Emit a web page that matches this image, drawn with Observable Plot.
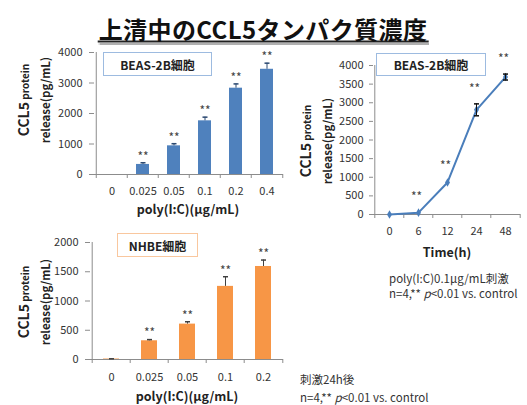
<!DOCTYPE html>
<html>
<head>
<meta charset="utf-8">
<script src="https://cdn.jsdelivr.net/npm/d3@7"></script>
<script src="https://cdn.jsdelivr.net/npm/@observablehq/plot@0.6"></script>
<style>
  body { margin: 0; background: #fff; }
  #page { position: relative; width: 527px; height: 405px; overflow: hidden;
          font-family: "Noto Sans CJK JP", "Noto Sans", sans-serif; color: #222; }
  .abs { position: absolute; white-space: nowrap; }
  .ctr { transform: translate(-50%, -50%); }
  .title { left: 263px; top: 28px; font-size: 24px; letter-spacing: 0.4px; font-weight: bold; color: #111; }
  .title span { border-bottom: 2px solid #222; box-shadow: 0 2px 1px #b0b0b0; padding: 0 1px; line-height: 25px; display: inline-block; }
  .ytitle { transform: translate(-50%, -50%) rotate(-90deg); text-align: center; font-weight: bold; line-height: 19px; color: #222; }
  .ytitle .big { font-size: 14px; }
  .ytitle .small { font-size: 10px; }
  .ytitle .mid { font-size: 11.5px; }
  .xtitle { font-size: 12.5px; font-weight: bold; color: #222; line-height: 14px; }
  .cell { border: 1px solid #9dbbe0; font-size: 12px; font-weight: bold; display: flex; align-items: center; justify-content: center; box-sizing: border-box; background: #fff; }
  .cell.orange { border-color: #f9c79e; }
  .note { font-size: 11.5px; color: #333; line-height: 15px; }
  .note.wide { line-height: 18px; }
  svg { position: absolute; overflow: visible; }
</style>
</head>
<body>
<div id="page">
  <div class="abs ctr title"><span>上清中のCCL5タンパク質濃度</span></div>
</div>
<script>
// BEAS-2B cells: CCL5 release by poly(I:C) dose (24 h)
const doseBeas = ["0", "0.025", "0.05", "0.1", "0.2", "0.4"];
const ccl5Beas = [0, 330, 940, 1760, 2830, 3450];
const errBeas  = [0, 55, 70, 120, 140, 200];

// BEAS-2B cells: CCL5 release over time at 0.1 μg/mL poly(I:C)
const timeHours = ["0", "6", "12", "24", "48"];
const ccl5Time  = [0, 50, 860, 2810, 3690];
const errTime   = [10, 15, 30, 160, 80];

// NHBE cells: CCL5 release by poly(I:C) dose (24 h)
const doseNhbe = ["0", "0.025", "0.05", "0.1", "0.2"];
const ccl5Nhbe = [8, 320, 605, 1250, 1590];
const errNhbe  = [4, 20, 40, 165, 110];

const yTicksBeas = [0, 1000, 2000, 3000, 4000];
const yTicksTime = [0, 500, 1000, 1500, 2000, 2500, 3000, 3500, 4000];
const yTicksNhbe = [0, 500, 1000, 1500, 2000];

const page = document.getElementById("page");
const axisGray = "#8c8c8c";
const font = '"Noto Sans CJK JP", "Noto Sans", sans-serif';
const plain = d3.format("d");

// short horizontal cap for error bars
const cap = { draw(ctx) { ctx.moveTo(-2.5, 0); ctx.lineTo(2.5, 0); } };

function html(cls, content, left, top, extra = {}) {
  const d = document.createElement("div");
  d.className = "abs " + cls;
  d.innerHTML = content;
  Object.assign(d.style, extra);
  d.style.left = left + "px";
  d.style.top = top + "px";
  page.appendChild(d);
  return d;
}

function barPanel(o) {
  const rows = o.cats.map((c, i) => ({
    dose: c, v: o.vals[i], e: o.errs[i], top: o.vals[i] + o.errs[i], star: i > 0 ? "**" : ""
  }));
  const n = o.cats.length;
  const step = (o.width - o.ml - o.mr) / n;
  const yMax = o.ticks[o.ticks.length - 1];
  const chart = Plot.plot({
    width: o.width, height: o.height,
    marginLeft: o.ml, marginRight: o.mr, marginTop: o.mt, marginBottom: o.mb,
    style: { fontFamily: font, fontSize: "11px", color: "#333", background: "transparent" },
    x: { type: "band", domain: o.cats, paddingInner: 0.59, paddingOuter: 0.295 },
    y: { domain: [0, yMax] },
    marks: [
      Plot.ruleY([0], { stroke: axisGray }),
      Plot.ruleX([o.cats[0]], { y1: 0, y2: yMax, dx: -step / 2, stroke: axisGray }),
      Plot.axisY({ ticks: o.ticks, tickFormat: plain, tickSize: 5, tickPadding: o.tp, label: null, stroke: axisGray, fontSize: 11 }),
      Plot.axisX({ tickSize: 0, tickPadding: o.xp, label: null, fontSize: 11 }),
      Plot.axisX({ tickSize: 4, tickFormat: () => "", dx: -step / 2, label: null, stroke: axisGray }),
      Plot.axisX({ ticks: [o.cats[n - 1]], tickSize: 4, tickFormat: () => "", dx: step / 2, label: null, stroke: axisGray }),
      Plot.barY(rows, { x: "dose", y: "v", fill: o.fill }),
      Plot.ruleX(rows.filter(d => d.e > 0), { x: "dose", y1: "v", y2: "top", stroke: o.errColor }),
      Plot.dot(rows.filter(d => d.e > 0), { x: "dose", y: "top", symbol: cap, r: 3, fill: "none", stroke: o.errColor }),
      Plot.text(rows, { x: "dose", y: "top", text: "star", dy: -6, fontSize: 12, fill: "#444" })
    ]
  });
  chart.style.left = o.left + "px";
  chart.style.top = o.top + "px";
  page.appendChild(chart);
}

function timePanel(o) {
  const rows = o.cats.map((c, i) => ({
    t: c, v: o.vals[i], lo: o.vals[i] - o.errs[i], hi: o.vals[i] + o.errs[i], star: i > 0 ? "**" : ""
  }));
  const n = o.cats.length;
  const step = (o.width - o.ml - o.mr) / n;
  const yMax = o.ticks[o.ticks.length - 1];
  const chart = Plot.plot({
    width: o.width, height: o.height,
    marginLeft: o.ml, marginRight: o.mr, marginTop: o.mt, marginBottom: o.mb,
    style: { fontFamily: font, fontSize: "11px", color: "#333", background: "transparent" },
    x: { type: "point", domain: o.cats, padding: 0.5 },
    y: { domain: [0, yMax] },
    marks: [
      Plot.ruleY([0], { stroke: axisGray }),
      Plot.ruleX([o.cats[0]], { y1: 0, y2: yMax, dx: -step / 2, stroke: axisGray }),
      Plot.axisY({ ticks: o.ticks, tickFormat: plain, tickSize: 4, tickPadding: 6, label: null, stroke: axisGray, fontSize: 11 }),
      Plot.axisX({ tickSize: 0, tickPadding: 13, label: null, fontSize: 11 }),
      Plot.axisX({ tickSize: 4, tickFormat: () => "", dx: -step / 2, label: null, stroke: axisGray }),
      Plot.axisX({ ticks: [o.cats[n - 1]], tickSize: 4, tickFormat: () => "", dx: step / 2, label: null, stroke: axisGray }),
      Plot.line(rows, { x: "t", y: "v", stroke: "#4a7ebb", strokeWidth: 2 }),
      Plot.dot(rows, { x: "t", y: "v", symbol: "diamond", r: 2.6, fill: "#4a7ebb", stroke: "none" }),
      Plot.ruleX(rows.filter(d => d.v > 1000), { x: "t", y1: "lo", y2: "hi", stroke: "#111" }),
      Plot.dot(rows.filter(d => d.v > 1000), { x: "t", y: "hi", symbol: cap, r: 3, fill: "none", stroke: "#111" }),
      Plot.dot(rows.filter(d => d.v > 1000), { x: "t", y: "lo", symbol: cap, r: 3, fill: "none", stroke: "#111" }),
      Plot.text(rows, { x: "t", y: "hi", text: "star", dy: -15, dx: -2, fontSize: 12, fill: "#444" })
    ]
  });
  chart.style.left = o.left + "px";
  chart.style.top = o.top + "px";
  page.appendChild(chart);
}

// top-left: BEAS-2B dose response
barPanel({ cats: doseBeas, vals: ccl5Beas, errs: errBeas, ticks: yTicksBeas,
  fill: "#4f81bd", errColor: "#2c4a72",
  left: 0, top: 40, width: 290, height: 180, ml: 94, mr: 7, mt: 12, mb: 46, tp: 7, xp: 13 });

// top-right: BEAS-2B time course
timePanel({ cats: timeHours, vals: ccl5Time, errs: errTime, ticks: yTicksTime,
  left: 290, top: 40, width: 237, height: 200, ml: 83, mr: 7, mt: 25, mb: 26 });

// bottom-left: NHBE dose response
barPanel({ cats: doseNhbe, vals: ccl5Nhbe, errs: errNhbe, ticks: yTicksNhbe,
  fill: "#f79646", errColor: "#404040",
  left: 0, top: 225, width: 290, height: 180, ml: 90, mr: 7, mt: 17, mb: 46, tp: 7, xp: 14 });

// axis titles
const yTitle = '<span class="big">CCL5</span><span class="small"> protein</span><br><span class="mid">release(pg/mL)</span>';
html("ytitle", yTitle, 34, 100);
html("ytitle", yTitle, 316, 141);
html("ytitle", yTitle, 34, 302);
html("ctr xtitle", "poly(I:C)(μg/mL)", 188, 209);
html("ctr xtitle", "Time(h)", 447, 252);
html("ctr xtitle", "poly(I:C)(μg/mL)", 187, 396);

// cell-type labels
html("cell", "BEAS-2B細胞", 103, 52, { width: "109px", height: "24px" });
html("cell", "BEAS-2B細胞", 376, 53, { width: "110px", height: "23px" });
html("cell orange", "NHBE細胞", 117, 233, { width: "81px", height: "24px" });

// notes
html("note", 'poly(I:C)0.1μg/mL刺激<br>n=4,** <i>p</i>&lt;0.01 vs. control', 389, 271);
html("note wide", '刺激24h後<br>n=4,** <i>p</i>&lt;0.01 vs. control', 300, 370);
</script>
</body>
</html>
